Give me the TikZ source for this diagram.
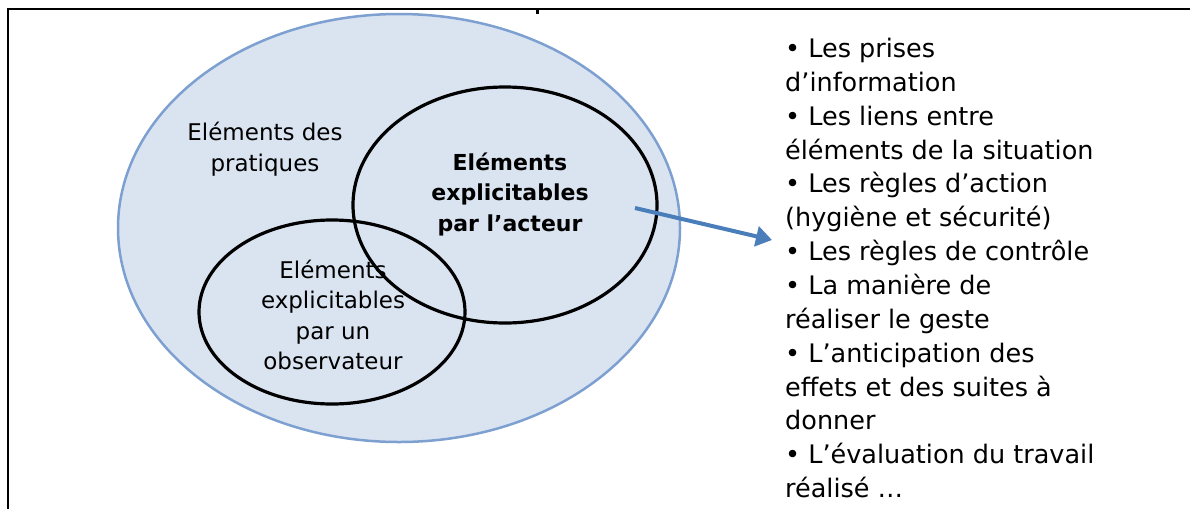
\documentclass[tikz,border=0pt]{standalone}
\usepackage{fontspec}
\setmainfont{DejaVu Sans}
\usetikzlibrary{shapes.geometric,arrows.meta}
\definecolor{vennfill}{RGB}{218,228,241}
\definecolor{venndraw}{RGB}{125,160,208}
\definecolor{arrowblue}{RGB}{74,126,187}
\begin{document}
\begin{tikzpicture}[x=1pt,y=-1pt,
  bigset/.style={ellipse, draw=venndraw, fill=vennfill, line width=2.5pt, inner sep=0pt},
  subset/.style={ellipse, draw=black, line width=3.2pt, inner sep=0pt},
  lbl/.style={align=center, inner sep=0pt, font=\fontsize{23}{30.5}\selectfont},
  listtext/.style={align=left, inner sep=0pt, anchor=north west, font=\fontsize{25.5}{33.85}\selectfont},
  framerule/.style={line width=2pt, black},
  link/.style={arrowblue, line width=4pt, -{Triangle[length=16pt,width=20pt]}}
]
\useasboundingbox (0,0) rectangle (1190,509);
\fill[white] (0,0) rectangle (1190,509);
\draw[framerule] (8,509) -- (8,9) -- (1190,9);
\draw[line width=3pt] (537,9) -- (537,14);

\node[bigset, minimum width=562pt, minimum height=428pt] (practices) at (399,228) {};
\node[subset, minimum width=304pt, minimum height=236pt] (actor) at (505,205) {};
\node[subset, minimum width=266pt, minimum height=184pt] (observer) at (332,312) {};

\node[lbl] (tpract) at (265,149) {Eléments des\\pratiques};
\node[lbl, font=\fontsize{22}{30.5}\selectfont\bfseries] (tactor) at (510,194) {Eléments\\explicitables\\par l’acteur};
\node[lbl] (tobs) at (333,315) {Eléments\\explicitables\\par un\\observateur};

\node[listtext] (list) at (785,38) {• Les prises\\
d’information\\
• Les liens entre\\
éléments de la situation\\
• Les règles d’action\\
(hygiène et sécurité)\\
• Les règles de contrôle\\
• La  manière de\\
réaliser le geste\\
• L’anticipation des\\
effets et des suites à\\
donner\\
• L’évaluation du travail\\
réalisé …};

\coordinate (arrowtail) at (635,208);
\coordinate (arrowtip) at (772,240);
\draw[link] (arrowtail) -- (arrowtip);
\end{tikzpicture}
\end{document}
